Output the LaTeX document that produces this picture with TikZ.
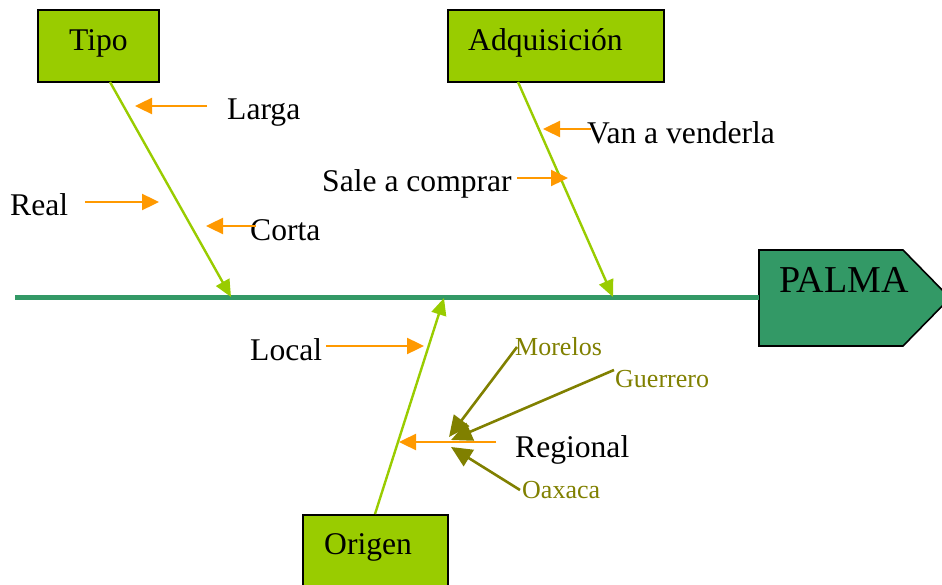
\documentclass[tikz,border=0pt]{standalone}
\usepackage{fontspec}
\setmainfont{Liberation Serif}
\usetikzlibrary{arrows.meta}
\definecolor{boxgreen}{HTML}{99CC00}
\definecolor{spinecol}{HTML}{339966}
\definecolor{orng}{HTML}{FF9900}
\definecolor{olv}{HTML}{808000}
\begin{document}
\begin{tikzpicture}[x=1pt,y=-1pt,
  catbox/.style={draw=black, line width=1.6pt, fill=boxgreen, anchor=north west, inner sep=0pt},
  lbl/.style={anchor=base west, inner sep=0pt, font=\fontsize{31.6}{36}\selectfont},
  sublbl/.style={anchor=base west, inner sep=0pt, text=olv, font=\fontsize{26}{30}\selectfont},
  bone/.style={draw=boxgreen, line width=2.4pt, -{Triangle[length=17pt,width=15pt]}},
  cue/.style={draw=orng, line width=2.4pt, -{Triangle[length=17pt,width=16pt]}},
  twig/.style={draw=olv, line width=2.6pt, -{Triangle[length=21pt,width=19pt]}},
  spineline/.style={draw=spinecol, line width=5pt}]
\useasboundingbox (0,0) rectangle (942,585);
\clip (0,0) rectangle (942,585);

% category boxes
\node[catbox, minimum width=121pt, minimum height=72pt] (tipo) at (37,9.5) {};
\node[catbox, minimum width=216pt, minimum height=72pt] (adq) at (447,9.5) {};
\node[catbox, minimum width=145pt, minimum height=80pt] (origen) at (302,514) {};

\node[lbl] (tipot) at (69,51) {Tipo};
\node[lbl] (adqt) at (468,51) {Adquisición};
\node[lbl] (origent) at (324,554) {Origen};

% effect
\filldraw[fill=spinecol, draw=black, line width=1.6pt]
  (759,250) -- (903,250) -- (950,298) -- (903,346) -- (759,346) -- cycle;
\node[anchor=base west, inner sep=0pt, font=\fontsize{38}{43}\selectfont] (palma) at (779,293) {PALMA};

% spine
\coordinate (spS) at (15,297);
\coordinate (spE) at (759,297);
\draw[spineline] (spS) -- (spE);

% bones
\coordinate (tipoS) at (110,82);
\coordinate (tipoE) at (231,297);
\coordinate (adqS) at (518,82);
\coordinate (adqE) at (613,297);
\coordinate (oriS) at (375,514);
\coordinate (oriE) at (444,298);
\draw[bone] (tipoS) -- (tipoE);
\draw[bone] (adqS) -- (adqE);
\draw[bone] (oriS) -- (oriE);

% labels
\node[lbl] (larga) at (227,120) {Larga};
\node[lbl] (real) at (10,216) {Real};
\node[lbl] (corta) at (250,241) {Corta};
\node[lbl] (van) at (587,144) {Van a venderla};
\node[lbl] (sale) at (322,192) {Sale a comprar};
\node[lbl] (local) at (250,360) {Local};
\node[lbl] (regional) at (515,457) {Regional};
\node[sublbl] (morelos) at (515,355) {Morelos};
\node[sublbl] (guerrero) at (615,387) {Guerrero};
\node[sublbl] (oaxaca) at (522,498) {Oaxaca};

% orange cue arrows
\coordinate (la1) at (207,106); \coordinate (la2) at (135,106);
\coordinate (re1) at (85,202);  \coordinate (re2) at (159,202);
\coordinate (co1) at (256,226); \coordinate (co2) at (206,226);
\coordinate (va1) at (591,129); \coordinate (va2) at (543,129);
\coordinate (sa1) at (517,178); \coordinate (sa2) at (568,178);
\coordinate (lo1) at (326,346); \coordinate (lo2) at (424,346);
\coordinate (rg1) at (496,442); \coordinate (rg2) at (399,442);
\draw[cue] (la1) -- (la2);
\draw[cue] (re1) -- (re2);
\draw[cue] (co1) -- (co2);
\draw[cue] (va1) -- (va2);
\draw[cue] (sa1) -- (sa2);
\draw[cue] (lo1) -- (lo2);
\draw[cue] (rg1) -- (rg2);

% olive twigs
\coordinate (mo1) at (517,347); \coordinate (mo2) at (449,437);
\coordinate (gu1) at (614,370); \coordinate (gu2) at (451,440);
\coordinate (oa1) at (520,490); \coordinate (oa2) at (451,447);
\draw[twig] (mo1) -- (mo2);
\draw[twig] (gu1) -- (gu2);
\draw[twig] (oa1) -- (oa2);
\end{tikzpicture}
\end{document}
